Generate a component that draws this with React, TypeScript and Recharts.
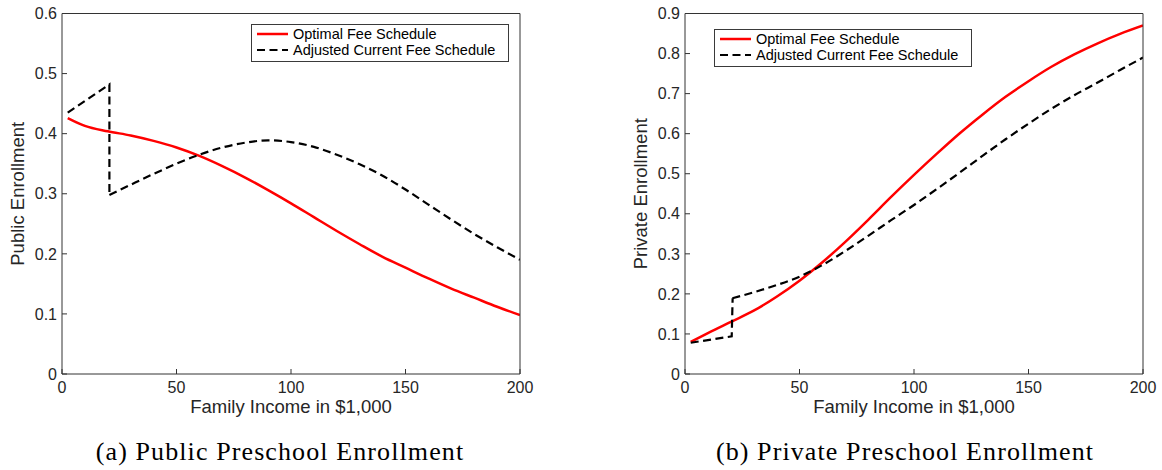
import React from 'react';
import { LineChart, Line, XAxis, YAxis, Legend } from 'recharts';

// ---------- data ----------
const incomeTicks = [0, 50, 100, 150, 200];
const publicTicks = [0, 0.1, 0.2, 0.3, 0.4, 0.5, 0.6];
const privateTicks = [0, 0.1, 0.2, 0.3, 0.4, 0.5, 0.6, 0.7, 0.8, 0.9];
const seriesNames = ['Optimal Fee Schedule', 'Adjusted Current Fee Schedule'];
const xTitle = 'Family Income in $1,000';
const yTitles = ['Public Enrollment', 'Private Enrollment'];
const captions = ['(a) Public Preschool Enrollment', '(b) Private Preschool Enrollment'];

// Optimal fee schedule (smooth)
const optimalIncome = [2.5, 10, 20, 30, 40, 50, 60, 70, 80, 90, 100, 110, 120, 130, 140, 150, 160, 170, 180, 190, 200];
const publicOptimal = [0.426, 0.413, 0.404, 0.397, 0.388, 0.377, 0.363, 0.346, 0.327, 0.306, 0.284, 0.261, 0.238, 0.216, 0.195, 0.177, 0.159, 0.142, 0.127, 0.112, 0.098];
const privateOptimal = [0.08, 0.102, 0.13, 0.158, 0.193, 0.233, 0.279, 0.33, 0.385, 0.442, 0.497, 0.55, 0.601, 0.648, 0.692, 0.731, 0.767, 0.798, 0.825, 0.849, 0.87];

// Adjusted current fee schedule: segment before the jump (incl. the jump itself)
const publicCurrentPreIncome = [2.5, 20.7, 20.7];
const publicCurrentPre = [0.435, 0.482, 0.298];
const privateCurrentPreIncome = [2.5, 20.4, 20.8];
const privateCurrentPre = [0.078, 0.094, 0.189];

// Adjusted current fee schedule: segment after the jump
const currentPostIncome = [20.7, 30, 40, 50, 60, 70, 80, 90, 100, 110, 120, 130, 140, 150, 160, 170, 180, 190, 200];
const publicCurrentPost = [0.298, 0.315, 0.333, 0.35, 0.365, 0.377, 0.385, 0.389, 0.386, 0.378, 0.365, 0.349, 0.33, 0.307, 0.282, 0.257, 0.233, 0.211, 0.19];
const privateCurrentPost = [0.189, 0.204, 0.222, 0.243, 0.272, 0.307, 0.345, 0.384, 0.422, 0.462, 0.503, 0.545, 0.586, 0.625, 0.662, 0.696, 0.727, 0.759, 0.79];

const toPoints = (xs: number[], ys: number[]) => xs.map((x, i) => ({ x, y: ys[i] }));

// ---------- styling ----------
const SANS = '"Liberation Sans", Arial, Helvetica, sans-serif';
const AXIS = '#333333';
const TEXT = '#262626';
const RED = '#ff0000';
const DASH = '8 4.5';

const LegendBox = () => (
  <div
    style={{
      border: '1px solid #3a3a3a',
      background: '#fff',
      width: 256,
      height: 35,
      paddingTop: 1,
      fontFamily: SANS,
      fontSize: 14.5,
      color: '#000',
    }}
  >
    {seriesNames.map((name, i) => (
      <div key={name} style={{ display: 'flex', alignItems: 'center', height: 16 }}>
        <svg width={41} height={16} style={{ display: 'block' }}>
          <line
            x1={5}
            x2={36}
            y1={8}
            y2={8}
            stroke={i === 0 ? RED : '#000'}
            strokeWidth={i === 0 ? 2.5 : 2.2}
            strokeDasharray={i === 0 ? undefined : DASH}
          />
        </svg>
        <span style={{ whiteSpace: 'nowrap', lineHeight: '16px' }}>{name}</span>
      </div>
    ))}
  </div>
);

type PanelProps = {
  chartLeft: number;
  chartWidth: number;
  rightMargin: number;
  yAxisWidth: number;
  yTicks: number[];
  yMax: number;
  yTitle: string;
  yTitleOffset: number;
  optimal: { x: number; y: number }[];
  pre: { x: number; y: number }[];
  post: { x: number; y: number }[];
  legendLeft: number;
  legendTop: number;
};

const Panel = (p: PanelProps) => (
  <div style={{ position: 'absolute', left: p.chartLeft, top: 0 }}>
    <LineChart
      width={p.chartWidth}
      height={470}
      margin={{ top: 12.5, right: p.rightMargin - 1, left: 0, bottom: 36 }}
      style={{ fontFamily: SANS }}
    >
      <XAxis
        dataKey="x"
        type="number"
        domain={[0, 200]}
        ticks={incomeTicks}
        allowDataOverflow
        height={60}
        stroke={AXIS}
        tickSize={-5}
        tickMargin={13}
        tick={{ fill: TEXT, fontSize: 16, fontFamily: SANS }}
        label={{ value: xTitle, position: 'insideTop', offset: 26, fill: TEXT, fontSize: 18.5, fontFamily: SANS }}
      />
      <XAxis
        xAxisId="top"
        orientation="top"
        dataKey="x"
        type="number"
        domain={[0, 200]}
        ticks={incomeTicks}
        allowDataOverflow
        height={1}
        stroke={AXIS}
        tickSize={-5}
        tick={false}
      />
      <YAxis
        type="number"
        domain={[0, p.yMax]}
        ticks={p.yTicks}
        allowDataOverflow
        width={p.yAxisWidth}
        stroke={AXIS}
        tickSize={-5}
        tickMargin={10}
        tick={{ fill: TEXT, fontSize: 16, fontFamily: SANS }}
        label={{
          value: p.yTitle,
          angle: -90,
          position: 'insideLeft',
          offset: p.yTitleOffset,
          fill: TEXT,
          fontSize: 18.5,
          fontFamily: SANS,
          style: { textAnchor: 'middle' },
        }}
      />
      <YAxis
        yAxisId="right"
        orientation="right"
        type="number"
        domain={[0, p.yMax]}
        ticks={p.yTicks}
        allowDataOverflow
        width={1}
        stroke={AXIS}
        tickSize={-5}
        tick={false}
      />
      <Line
        data={p.optimal}
        dataKey="y"
        name={seriesNames[0]}
        type="monotone"
        stroke={RED}
        strokeWidth={2.5}
        dot={false}
        activeDot={false}
        isAnimationActive={false}
      />
      <Line
        data={p.pre}
        dataKey="y"
        name={seriesNames[1]}
        type="linear"
        stroke="#000"
        strokeWidth={2.2}
        strokeDasharray={DASH}
        dot={false}
        activeDot={false}
        isAnimationActive={false}
        legendType="none"
      />
      <Line
        data={p.post}
        dataKey="y"
        name={seriesNames[1]}
        type="monotone"
        stroke="#000"
        strokeWidth={2.2}
        strokeDasharray={DASH}
        dot={false}
        activeDot={false}
        isAnimationActive={false}
        legendType="none"
      />
      <Legend
        verticalAlign="middle"
        align="center"
        content={() => <LegendBox />}
        wrapperStyle={{ left: p.legendLeft, top: p.legendTop, width: 'auto', height: 'auto', bottom: 'auto', right: 'auto' }}
      />
    </LineChart>
  </div>
);

const captionStyle: React.CSSProperties = {
  position: 'absolute',
  top: 439,
  width: 560,
  textAlign: 'center',
  fontFamily: '"Liberation Serif", "Times New Roman", serif',
  fontSize: 26,
  letterSpacing: 1.1,
  lineHeight: '26px',
  color: '#000',
  whiteSpace: 'nowrap',
};

export default function App() {
  return (
    <div style={{ position: 'absolute', left: 0, top: 0, width: 1162, height: 470, background: '#fff', overflow: 'hidden' }}>
      <Panel
        chartLeft={0}
        chartWidth={560}
        rightMargin={40}
        yAxisWidth={62}
        yTicks={publicTicks}
        yMax={0.6}
        yTitle={yTitles[0]}
        yTitleOffset={17}
        optimal={toPoints(optimalIncome, publicOptimal)}
        pre={toPoints(publicCurrentPreIncome, publicCurrentPre)}
        post={toPoints(currentPostIncome, publicCurrentPost)}
        legendLeft={251}
        legendTop={24}
      />
      <Panel
        chartLeft={581}
        chartWidth={581}
        rightMargin={19}
        yAxisWidth={104}
        yTicks={privateTicks}
        yMax={0.9}
        yTitle={yTitles[1]}
        yTitleOffset={59}
        optimal={toPoints(optimalIncome, privateOptimal)}
        pre={toPoints(privateCurrentPreIncome, privateCurrentPre)}
        post={toPoints(currentPostIncome, privateCurrentPost)}
        legendLeft={133}
        legendTop={29}
      />
      <div style={{ ...captionStyle, left: 0 }}>{captions[0]}</div>
      <div style={{ ...captionStyle, left: 625 }}>{captions[1]}</div>
    </div>
  );
}
